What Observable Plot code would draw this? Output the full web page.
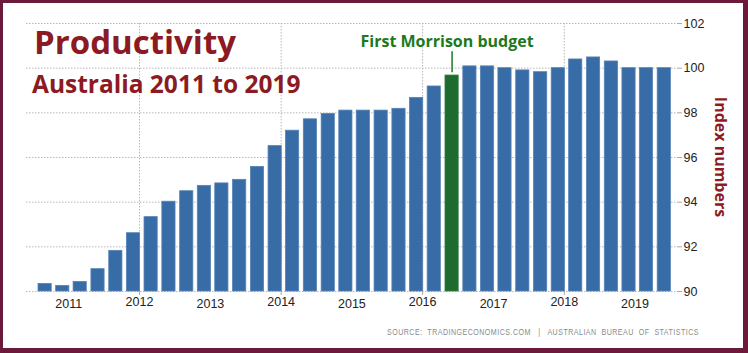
<!DOCTYPE html>
<html><head><meta charset="utf-8">
<script src="https://cdn.jsdelivr.net/npm/d3@7"></script>
<script src="https://cdn.jsdelivr.net/npm/@observablehq/plot@0.6"></script>
<style>
body{margin:0;background:#fff;}
#wrap{position:relative;width:748px;height:353px;overflow:hidden;background:#fff;}
#chart svg{position:absolute;left:0;top:0;}
.t{position:absolute;font-family:"Open Sans",sans-serif;font-weight:700;color:#8c1a22;white-space:nowrap;line-height:1;}
#title{left:34px;top:25px;font-size:33px;}
#subtitle{left:32px;top:72px;font-size:24.5px;}
#ylabel{left:721px;top:157px;font-size:16px;transform:translate(-50%,-50%) rotate(90deg);}
#source{position:absolute;left:387px;top:328px;font-family:"Liberation Sans Narrow","Liberation Sans",Arial,sans-serif;font-size:9px;letter-spacing:0.6px;color:#8a8a8a;white-space:pre;line-height:1;transform-origin:0 50%;}
#frame{position:absolute;left:0;top:0;width:748px;height:353px;border-style:solid;border-color:#6b1a3b;border-width:3px 5px 5px 3px;box-sizing:border-box;pointer-events:none;}
</style></head><body>
<div id="wrap">
  <div id="chart"></div>
  <div class="t" id="title">Productivity</div>
  <div class="t" id="subtitle">Australia 2011 to 2019</div>
  <div class="t" id="ylabel">Index numbers</div>
  <div id="source">SOURCE:  TRADINGECONOMICS.COM   |   AUSTRALIAN  BUREAU  OF  STATISTICS</div>
  <div id="frame"></div>
</div>
<script>
// Quarterly productivity index (bars placed at last month of each quarter)
const quarters = [
  "2010-09","2010-12","2011-03","2011-06","2011-09","2011-12",
  "2012-03","2012-06","2012-09","2012-12","2013-03","2013-06",
  "2013-09","2013-12","2014-03","2014-06","2014-09","2014-12",
  "2015-03","2015-06","2015-09","2015-12","2016-03","2016-06",
  "2016-09","2016-12","2017-03","2017-06","2017-09","2017-12",
  "2018-03","2018-06","2018-09","2018-12","2019-03","2019-06"
];
const values = [
  90.34, 90.25, 90.43, 91.00, 91.82, 92.61,
  93.33, 94.02, 94.49, 94.73, 94.84, 95.00,
  95.58, 96.51, 97.20, 97.71, 97.95, 98.10,
  98.10, 98.10, 98.18, 98.67, 99.18, 99.67,
  100.08, 100.08, 100.00, 99.90, 99.82, 100.00,
  100.39, 100.48, 100.30, 100.00, 100.00, 100.00
];
const highlightQuarter = "2016-06";
const annotationText = "First Morrison budget";
const yTicks = [90, 92, 94, 96, 98, 100, 102];
const yearLabels = ["2011","2012","2013","2014","2015","2016","2017","2018","2019"];
const gridYears = ["2012","2014","2016","2018"];
const xDomain = ["2010-05-28","2019-08-03"];

const parse = s => new Date(s.length === 7 ? s + "-01T00:00:00Z" : s.length === 4 ? s + "-01-01T00:00:00Z" : s + "T00:00:00Z");
const data = quarters.map((q, i) => ({date: parse(q), value: values[i], hi: q === highlightQuarter}));
const hi = data.filter(d => d.hi);
const evenYears = yearLabels.filter(y => gridYears.includes(y)).map(parse);
const oddYears = yearLabels.filter(y => !gridYears.includes(y)).map(parse);

const axisFont = "Liberation Sans Narrow, Liberation Sans, Arial, sans-serif";

const chart = Plot.plot({
  width: 748,
  height: 353,
  marginLeft: 26,
  marginRight: 72,
  marginTop: 23,
  marginBottom: 62,
  style: {background: "transparent", fontFamily: axisFont, overflow: "visible"},
  x: {type: "utc", domain: xDomain.map(parse)},
  y: {domain: [90, 102]},
  marks: [
    Plot.gridY(yTicks, {stroke: "#b8b8b8", strokeOpacity: 1, strokeDasharray: "1.5,1.5"}),
    Plot.gridX(evenYears, {stroke: "#b8b8b8", strokeOpacity: 1, strokeDasharray: "1.5,1.5"}),
    Plot.rect(data, {
      x1: d => d3.utcDay.offset(d.date, -34),
      x2: d => d3.utcDay.offset(d.date, 34),
      y1: () => 90,
      y2: "value",
      fill: d => d.hi ? "#1d6b2e" : "#386ca6",
      stroke: d => d.hi ? "#2f7d40" : "#5582b6",
      strokeWidth: 0.8
    }),
    Plot.ruleX(hi, {x: "date", y1: d => d.value + 0.12, y2: d => d.value + 1.07, stroke: "#1d7a2a", strokeWidth: 1.5}),
    Plot.text(hi, {x: "date", y: d => d.value + 1.07, text: () => annotationText, dy: -5, dx: -5,
      lineAnchor: "bottom", fontFamily: "Open Sans, sans-serif", fontWeight: 700, fontSize: 16, fill: "#1c7a1c"}),
    Plot.axisY(yTicks, {anchor: "right", tickSize: 5, tickPadding: 2, stroke: "#aaa", fontSize: 12.5, color: "#222", label: null, tickFormat: d => String(d)}),
    Plot.axisX(evenYears, {anchor: "bottom", tickSize: 4, tickPadding: 2, stroke: "#aaa", fontSize: 12.5, color: "#222", label: null, tickFormat: d3.utcFormat("%Y")}),
    Plot.axisX(oddYears, {anchor: "bottom", tickSize: 0, tickPadding: 8, fontSize: 12.5, color: "#222", label: null, tickFormat: d3.utcFormat("%Y")})
  ]
});
document.getElementById("chart").appendChild(chart);

// fit the source line to the reference width
const src = document.getElementById("source");
const w = src.getBoundingClientRect().width;
const targetWidth = 312;
if (w > 0) src.style.transform = `scaleX(${targetWidth / w})`;
</script>
</body></html>
